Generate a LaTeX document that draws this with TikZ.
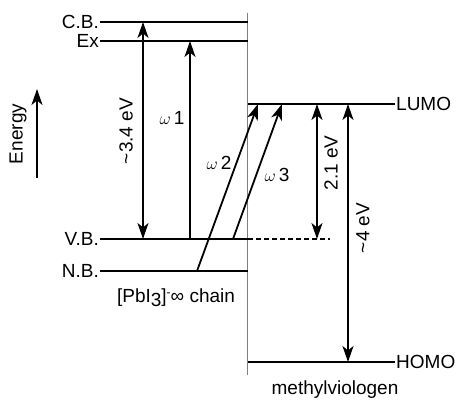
\documentclass[tikz,border=0pt]{standalone}
\usepackage{fontspec}
\setmainfont{Liberation Sans}
\usetikzlibrary{arrows.meta}
\begin{document}
\begin{tikzpicture}[x=1pt,y=-1pt,
  lvl/.style={line width=1.5pt},
  arr/.style={line width=1.8pt,-{Stealth[length=16pt,width=11pt,inset=4.5pt]}},
  darr/.style={line width=1.8pt,{Stealth[length=16pt,width=11pt,inset=4.5pt]}-{Stealth[length=16pt,width=11pt,inset=4.5pt]}},
  lab/.style={font=\fontsize{19}{22}\selectfont, inner sep=1pt},
  om/.style={font=\fontsize{19}{22}\selectfont, inner sep=1pt},
]
\useasboundingbox (0,0) rectangle (458,403);
% separator
\coordinate (sepT) at (247,13);
\coordinate (sepB) at (247,375);
\draw[gray, line width=0.9pt] (sepT) -- (sepB);
% levels
\coordinate (cbL) at (100,22);  \coordinate (cbR) at (248,22);
\coordinate (exL) at (100,41);  \coordinate (exR) at (248,41);
\coordinate (vbL) at (100,239); \coordinate (vbR) at (248,239); \coordinate (vbD) at (330,239);
\coordinate (nbL) at (100,271); \coordinate (nbR) at (248,271);
\coordinate (luL) at (248,104); \coordinate (luR) at (395,104);
\coordinate (hoL) at (248,362); \coordinate (hoR) at (395,362);
\draw[lvl] (cbL) -- (cbR);
\draw[lvl] (exL) -- (exR);
\draw[lvl] (vbL) -- (vbR);
\draw[lvl, dash pattern=on 5pt off 3pt] (vbR) -- (vbD);
\draw[lvl] (nbL) -- (nbR);
\draw[lvl] (luL) -- (luR);
\draw[lvl] (hoL) -- (hoR);
% level labels
\node[lab, anchor=east] (cb) at (cbL) {C.B.};
\node[lab, anchor=east] (ex) at (exL) {Ex};
\node[lab, anchor=east] (vb) at (vbL) {V.B.};
\node[lab, anchor=east] (nb) at (nbL) {N.B.};
\node[lab, anchor=west] (lumo) at (luR) {LUMO};
\node[lab, anchor=west] (homo) at (hoR) {HOMO};
\node[lab] (chain) at (176,298) {[PbI\raisebox{-3.5pt}{3}]\raisebox{6pt}{\fontsize{12}{12}\selectfont -}∞ chain};
\node[lab] (mv) at (335,390) {methylviologen};
% arrow end points
\coordinate (a1b) at (190,239); \coordinate (a1t) at (190,41);
\coordinate (g1t) at (143,22);  \coordinate (g1b) at (143,239);
\coordinate (a2b) at (197,271); \coordinate (a2t) at (258,104);
\coordinate (a3b) at (233,239); \coordinate (a3t) at (282,104);
\coordinate (g2t) at (317,104); \coordinate (g2b) at (317,239);
\coordinate (g3t) at (348,104); \coordinate (g3b) at (348,362);
\coordinate (enb) at (37,178);  \coordinate (ent) at (37,89);
\draw[arr] (a1b) -- (a1t);
\draw[darr] (g1t) -- (g1b);
\draw[arr] (a2b) -- (a2t);
\draw[arr] (a3b) -- (a3t);
\draw[darr] (g2t) -- (g2b);
\draw[darr] (g3t) -- (g3b);
\draw[arr] (enb) -- (ent);
% arrow labels
\node[lab, rotate=90] (l34) at (126,131) {\textasciitilde3.4 eV};
\node[lab, rotate=90] (l21) at (331,163) {2.1 eV};
\node[lab, rotate=90] (l4) at (363,228) {\textasciitilde4 eV};
\node[lab, rotate=90] (len) at (18,134) {Energy};
\node[om] (w1) at (172,118) {{\fontsize{17}{17}\selectfont$\omega$}\,1};
\node[om] (w2) at (219,163) {{\fontsize{17}{17}\selectfont$\omega$}\,2};
\node[om] (w3) at (277,175) {{\fontsize{17}{17}\selectfont$\omega$}\,3};
\end{tikzpicture}
\end{document}
